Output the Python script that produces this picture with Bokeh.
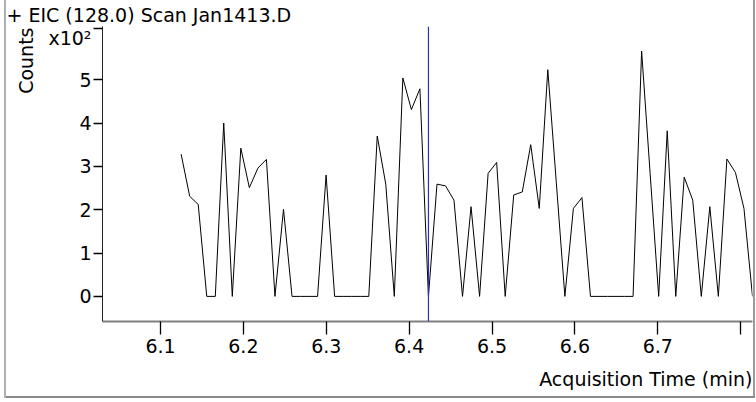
from bokeh.plotting import figure
from bokeh.models import FixedTicker, Span, Title, ColumnDataSource, Range1d
from bokeh.embed import file_html
from bokeh.resources import INLINE

# Acquisition times (min)
times = [6.1249, 6.1352, 6.1455, 6.1558, 6.1661, 6.1763, 6.1866, 6.1969, 6.2072, 6.2175,
         6.2278, 6.2381, 6.2484, 6.2587, 6.2690, 6.2792, 6.2895, 6.2998, 6.3101, 6.3204,
         6.3307, 6.3410, 6.3513, 6.3615, 6.3718, 6.3821, 6.3924, 6.4027, 6.4130, 6.4233,
         6.4336, 6.4439, 6.4541, 6.4644, 6.4747, 6.4850, 6.4953, 6.5056, 6.5159, 6.5262,
         6.5365, 6.5467, 6.5570, 6.5673, 6.5776, 6.5879, 6.5982, 6.6085, 6.6188, 6.6291,
         6.6393, 6.6496, 6.6599, 6.6702, 6.6805, 6.6908, 6.7011, 6.7114, 6.7217, 6.7319,
         6.7422, 6.7525, 6.7628, 6.7731, 6.7834, 6.7937, 6.8040, 6.8143]
# Counts
counts = [328, 231, 212, 0, 0, 400, 0, 342, 251, 296,
          316, 0, 201, 0, 0, 0, 0, 280, 0, 0,
          0, 0, 0, 370, 259, 0, 504, 431, 479, 0,
          259, 255, 222, 0, 207, 0, 284, 309, 0, 234,
          241, 350, 203, 523, 262, 0, 203, 228, 0, 0,
          0, 0, 0, 0, 566, 283, 0, 382, 0, 275,
          222, 0, 207, 0, 317, 286, 203, 0]

x_ticks = [6.1, 6.2, 6.3, 6.4, 6.5, 6.6, 6.7, 6.8]
x_tick_labels = ["6.1", "6.2", "6.3", "6.4", "6.5", "6.6", "6.7", ""]
y_tick_marks = [0, 100, 200, 300, 400, 500, 618]
y_label_ticks = [0, 100, 200, 300, 400, 500, 597]
y_tick_labels = ["0", "1", "2", "3", "4", "5", "x10\u00b2"]
marker_time = 6.4233

title_text = "+ EIC (128.0) Scan Jan1413.D"
x_label = "Acquisition Time (min)"
y_label = "Counts"

FONT = "DejaVu Sans"
FS = "19px"

W, H = 756, 402
p = figure(width=W, height=H, output_backend="svg", toolbar_location=None,
           x_range=Range1d(6.0300, 6.8143), y_range=Range1d(-57.9, 622.7),
           min_border_left=102, min_border_right=4, min_border_top=0, min_border_bottom=81,
           styles={"background-color": "#ffffff",
                   "box-shadow": ("inset 4px 0 0 0 #ffffff, inset 0 -4px 0 0 #ffffff, "
                                  "inset -1px 0 0 0 #ffffff, "
                                  "inset 6px 0 0 0 #b0b0b0, inset 0 -6px 0 0 #8a8a8a, "
                                  "inset -3px 0 0 0 #9a9a9a")})

p.title.text = title_text
p.title.align = "left"
p.title.offset = -96
p.title.text_font = FONT
p.title.text_font_size = FS
p.title.text_font_style = "normal"
p.title.text_color = "#000000"
p.title.standoff = 2

p.grid.visible = False
p.outline_line_color = None
p.background_fill_color = "#ffffff"
p.border_fill_alpha = 0

src = ColumnDataSource(dict(t=times, c=counts))
p.line("t", "c", source=src, line_color="#000000", line_width=1)

p.add_layout(Span(location=marker_time, dimension="height", line_color="#3030b0", line_width=1.2))

xa = p.xaxis[0]
xa.ticker = FixedTicker(ticks=x_ticks)
xa.major_label_overrides = {v: s for v, s in zip(x_ticks, x_tick_labels)}
xa.axis_line_color = "#808080"
xa.axis_line_width = 2
xa.major_tick_line_color = "#000000"
xa.major_tick_line_width = 1.3
xa.major_tick_out = 13
xa.major_tick_in = 0
xa.minor_tick_line_color = None
xa.major_label_standoff = 4
xa.major_label_text_font = FONT
xa.major_label_text_font_size = FS
xa.major_label_text_color = "#000000"

ya = p.yaxis[0]
# labels sit on the major ticks, tick marks are drawn as minor ticks
ya.ticker = FixedTicker(ticks=y_label_ticks, minor_ticks=y_tick_marks)
ya.major_label_overrides = {v: s for v, s in zip(y_label_ticks, y_tick_labels)}
ya.axis_line_color = "#222222"
ya.major_tick_line_color = None
ya.major_tick_out = 9
ya.major_tick_in = 0
ya.minor_tick_line_color = "#000000"
ya.minor_tick_line_width = 1.3
ya.minor_tick_out = 9
ya.minor_tick_in = 0
ya.major_label_standoff = 2
ya.major_label_text_font = FONT
ya.major_label_text_font_size = FS
ya.major_label_text_color = "#000000"

p.add_layout(Title(text=y_label, align="right", offset=1, standoff=18,
                   text_font=FONT, text_font_size=FS, text_font_style="normal",
                   text_color="#000000"), "left")
p.add_layout(Title(text=x_label, align="right", offset=0, standoff=20,
                   text_font=FONT, text_font_size=FS, text_font_style="normal",
                   text_color="#000000"), "below")

open("out.html", "w").write(file_html(p, INLINE))
